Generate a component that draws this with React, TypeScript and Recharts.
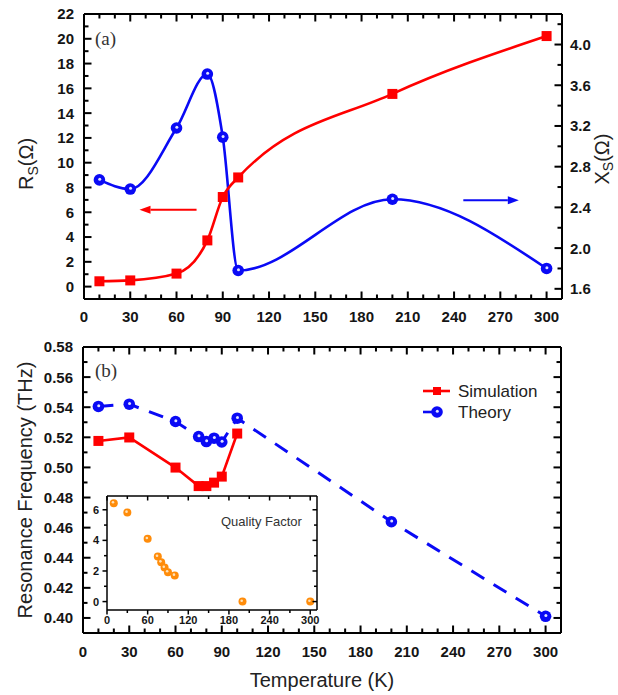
import React from 'react';
import { LineChart, Line, XAxis, YAxis, ReferenceLine, ScatterChart, Scatter } from 'recharts';

// ---------- data ----------
const temperaturesA = [10, 30, 60, 80, 90, 100, 200, 300];
const surfaceResistance = [0.43, 0.5, 1.05, 3.73, 7.23, 8.81, 15.55, 20.22];
const surfaceReactance = [2.67, 2.58, 3.18, 3.71, 3.09, 1.78, 2.48, 1.8];

const simTemps = [10, 30, 60, 75, 80, 85, 90, 100];
const simFreq = [0.5176, 0.5199, 0.4999, 0.4876, 0.4876, 0.4899, 0.4939, 0.5225];
const theoryTemps = [10, 30, 60, 75, 80, 85, 90, 100, 200, 300];
const theoryFreq = [0.5405, 0.542, 0.5305, 0.5205, 0.5172, 0.5194, 0.5169, 0.5327, 0.4639, 0.4011];

const qTemps = [10, 30, 60, 75, 80, 85, 90, 100, 200, 300];
const qFactor = [6.43, 5.82, 4.1, 2.94, 2.57, 2.22, 1.92, 1.7, 0, 0];

// ---------- ticks ----------
const tempMajor = [0, 30, 60, 90, 120, 150, 180, 210, 240, 270, 300];
const tempMinor = [0, 10, 20, 30, 40, 50, 60, 70, 80, 90, 100, 110, 120, 130, 140, 150, 160, 170, 180, 190, 200, 210, 220, 230, 240, 250, 260, 270, 280, 290, 300];
const rsMajor = [0, 2, 4, 6, 8, 10, 12, 14, 16, 18, 20, 22];
const rsMinor = [0, 1, 2, 3, 4, 5, 6, 7, 8, 9, 10, 11, 12, 13, 14, 15, 16, 17, 18, 19, 20, 21];
const xsMajor = [1.6, 2.0, 2.4, 2.8, 3.2, 3.6, 4.0];
const xsMinor = [1.6, 1.8, 2.0, 2.2, 2.4, 2.6, 2.8, 3.0, 3.2, 3.4, 3.6, 3.8, 4.0, 4.2];
const freqMajor = [0.4, 0.42, 0.44, 0.46, 0.48, 0.5, 0.52, 0.54, 0.56, 0.58];
const freqMinor = [0.4, 0.41, 0.42, 0.43, 0.44, 0.45, 0.46, 0.47, 0.48, 0.49, 0.5, 0.51, 0.52, 0.53, 0.54, 0.55, 0.56, 0.57];
const insetTempMajor = [0, 60, 120, 180, 240, 300];
const insetTempMinor = [0, 30, 60, 90, 120, 150, 180, 210, 240, 270, 300];
const insetQMajor = [0, 2, 4, 6];
const insetQMinor = [0, 1, 2, 3, 4, 5, 6];

// ---------- tables ----------
const tableA = temperaturesA.map((t, i) => ({ t, rs: surfaceResistance[i], xs: surfaceReactance[i] }));
const simTable = simTemps.map((t, i) => ({ t, f: simFreq[i] }));
const theoryTable = theoryTemps.map((t, i) => ({ t, f: theoryFreq[i] }));
const qTable = qTemps.map((t, i) => ({ t, q: qFactor[i] }));

const FONT = "'Liberation Sans', Arial, Helvetica, sans-serif";
const RED = '#ff0000';
const BLUE = '#0a0af5';
const ORANGE = '#ff8c0a';

// ---------- layout (chart sizes / margins / axis sizes) ----------
const A = { top: 0, w: 618, h: 330, mTop: 14, yLeftW: 84, yRightW: 56, xH: 31, xd: [0, 310], yd: [-1, 22], y2d: [1.5, 4.3] };
const B = { top: 330, w: 618, h: 365, mTop: 17, yLeftW: 83, yRightW: 57, xH: 62, xd: [0, 310], yd: [0.39, 0.58] };
const I = { left: 80, top: 490, w: 245, h: 140, mTop: 6, mRight: 8, yLeftW: 27, xH: 20, xd: [0, 310], yd: [-0.55, 6.9] };

type Side = 'bottom' | 'left' | 'right';
function labelTick(side: Side, gap: number, digits: number, size: number) {
  return (p: any) => {
    const v = Number(p.payload && p.payload.value);
    const x = Number(p.x);
    const y = Number(p.y);
    const ts = { fontFamily: FONT, fontWeight: 700, fontSize: size, fill: '#151515' } as any;
    const s = v.toFixed(digits);
    if (side === 'bottom') return <text x={x} y={y + gap} textAnchor="middle" style={ts}>{s}</text>;
    if (side === 'left') return <text x={x - gap} y={y} dy="0.36em" textAnchor="end" style={ts}>{s}</text>;
    return <text x={x + gap} y={y} dy="0.36em" textAnchor="start" style={ts}>{s}</text>;
  };
}

interface Box { l: number; r: number; t: number; b: number }
interface TickSet { d: number[]; minor: number[]; major: number[] }
// side factors: +1 inward, -1 outward, 0 none
function tickMarks(key: string, box: Box, xs: TickSet | null, ys: TickSet | null,
  sides: { bottom: number; top: number; left: number; right: number }, Lmaj: number, Lmin: number, w: number) {
  const out: any[] = [];
  if (xs) {
    xs.minor.forEach((v, i) => {
      const L = xs.major.includes(v) ? Lmaj : Lmin;
      const x = box.l + ((v - xs.d[0]) / (xs.d[1] - xs.d[0])) * (box.r - box.l);
      if (sides.bottom) out.push(<rect key={`${key}b${i}`} x={x - w / 2} y={sides.bottom > 0 ? box.b - L : box.b} width={w} height={L} fill="#000" />);
      if (sides.top) out.push(<rect key={`${key}t${i}`} x={x - w / 2} y={sides.top > 0 ? box.t : box.t - L} width={w} height={L} fill="#000" />);
    });
  }
  if (ys) {
    ys.minor.forEach((v, i) => {
      const L = ys.major.includes(v) ? Lmaj : Lmin;
      const y = box.b - ((v - ys.d[0]) / (ys.d[1] - ys.d[0])) * (box.b - box.t);
      if (sides.left) out.push(<rect key={`${key}l${i}`} x={sides.left > 0 ? box.l : box.l - L} y={y - w / 2} width={L} height={w} fill="#000" />);
      if (sides.right) out.push(<rect key={`${key}r${i}`} x={sides.right > 0 ? box.r - L : box.r} y={y - w / 2} width={L} height={w} fill="#000" />);
    });
  }
  return out;
}

const fullLine = (w: number) => (p: any) => (
  <line x1={Number(p.x1)} y1={Number(p.y1)} x2={Number(p.x2)} y2={Number(p.y2)} stroke="#000" strokeWidth={w} />
);

const RedSquare = (p: any) => {
  if (p.cx == null || p.cy == null) return <g key={`rs-${p.index}`} />;
  return <rect key={`rs-${p.index}`} x={p.cx - 5} y={p.cy - 5} width={10} height={10} fill={RED} />;
};
const BlueBall = (p: any) => {
  if (p.cx == null || p.cy == null) return <g key={`bb-${p.index}`} />;
  return (
    <g key={`bb-${p.index}`}>
      <circle cx={p.cx} cy={p.cy} r={5.8} fill={BLUE} />
      <circle cx={p.cx + 0.3} cy={p.cy - 0.7} r={1.5} fill="#dfe3ff" />
    </g>
  );
};
const OrangeBall = (p: any) => (
  <g>
    <circle cx={p.cx} cy={p.cy} r={4} fill={ORANGE} />
    <circle cx={p.cx - 0.8} cy={p.cy - 0.9} r={1.3} fill="#ffe2b8" />
  </g>
);

const makeArrow = (color: string) => (p: any) => {
  const x1 = Number(p.x1), y1 = Number(p.y1), x2 = Number(p.x2), y2 = Number(p.y2);
  if (!isFinite(x1) || !isFinite(x2)) return <g />;
  const dir = x2 > x1 ? 1 : -1;
  const hl = 11;
  return (
    <g>
      <line x1={x1} y1={y1} x2={x2 - dir * hl} y2={y2} stroke={color} strokeWidth={2} />
      <polygon points={`${x2},${y2} ${x2 - dir * hl},${y2 - 4} ${x2 - dir * hl},${y2 + 4}`} fill={color} />
    </g>
  );
};

const axisLineStyle = { stroke: '#000', strokeWidth: 2 };

function PanelA() {
  return (
    <LineChart width={A.w} height={A.h} data={tableA} margin={{ top: A.mTop, right: 0, bottom: 0, left: 0 }}>
      <XAxis xAxisId="b" dataKey="t" type="number" domain={A.xd} allowDataOverflow ticks={tempMajor} interval={0}
        tickSize={0} tickMargin={0} tickLine={false} axisLine={axisLineStyle} height={A.xH}
        tick={labelTick('bottom', 23, 0, 15)} />
      <YAxis yAxisId="left" type="number" domain={A.yd} allowDataOverflow ticks={rsMajor} interval={0}
        tickSize={0} tickMargin={0} tickLine={false} axisLine={axisLineStyle} width={A.yLeftW}
        tick={labelTick('left', 10, 0, 15)} />
      <YAxis yAxisId="right" orientation="right" type="number" domain={A.y2d} allowDataOverflow ticks={xsMajor} interval={0}
        tickSize={0} tickMargin={0} tickLine={false} axisLine={axisLineStyle} width={A.yRightW}
        tick={labelTick('right', 8, 1, 15)} />
      <ReferenceLine xAxisId="b" yAxisId="left" y={22} shape={fullLine(2)} />
      <Line xAxisId="b" yAxisId="right" dataKey="xs" type="monotone" stroke={BLUE} strokeWidth={2.6}
        dot={BlueBall} activeDot={false} isAnimationActive={false} />
      <Line xAxisId="b" yAxisId="left" dataKey="rs" type="monotone" stroke={RED} strokeWidth={2.6}
        dot={RedSquare} activeDot={false} isAnimationActive={false} />
      <ReferenceLine xAxisId="b" yAxisId="left" segment={[{ x: 73, y: 6.2 }, { x: 36, y: 6.2 }]} shape={makeArrow(RED)} />
      <ReferenceLine xAxisId="b" yAxisId="right" segment={[{ x: 246, y: 2.47 }, { x: 282, y: 2.47 }]} shape={makeArrow(BLUE)} />
    </LineChart>
  );
}

function PanelB() {
  return (
    <LineChart width={B.w} height={B.h} margin={{ top: B.mTop, right: 0, bottom: 0, left: 0 }}>
      <XAxis xAxisId="b" dataKey="t" type="number" domain={B.xd} allowDataOverflow ticks={tempMajor} interval={0}
        tickSize={0} tickMargin={0} tickLine={false} axisLine={axisLineStyle} height={B.xH}
        tick={labelTick('bottom', 24, 0, 15)} />
      <YAxis yAxisId="left" type="number" domain={B.yd} allowDataOverflow ticks={freqMajor} interval={0}
        tickSize={0} tickMargin={0} tickLine={false} axisLine={axisLineStyle} width={B.yLeftW}
        tick={labelTick('left', 10, 2, 15)} />
      <YAxis yAxisId="right" orientation="right" type="number" domain={B.yd} allowDataOverflow ticks={freqMajor} interval={0}
        tickSize={0} tickMargin={0} tickLine={false} tick={false} axisLine={axisLineStyle} width={B.yRightW} />
      <ReferenceLine xAxisId="b" yAxisId="left" y={0.58} shape={fullLine(2)} />
      <Line xAxisId="b" yAxisId="left" data={theoryTable} dataKey="f" type="linear" stroke={BLUE} strokeWidth={3}
        strokeDasharray="15 11" dot={BlueBall} activeDot={false} isAnimationActive={false} />
      <Line xAxisId="b" yAxisId="left" data={simTable} dataKey="f" type="linear" stroke={RED} strokeWidth={2.6}
        dot={RedSquare} activeDot={false} isAnimationActive={false} />
    </LineChart>
  );
}

function Inset() {
  const al = { stroke: '#000', strokeWidth: 1.5 };
  return (
    <ScatterChart width={I.w} height={I.h} margin={{ top: I.mTop, right: I.mRight, bottom: 0, left: 0 }}>
      <XAxis xAxisId="b" dataKey="t" type="number" domain={I.xd} allowDataOverflow ticks={insetTempMajor} interval={0}
        tickSize={0} tickMargin={0} tickLine={false} axisLine={al} height={I.xH}
        tick={labelTick('bottom', 14, 0, 11)} />
      <YAxis yAxisId="left" dataKey="q" type="number" domain={I.yd} allowDataOverflow ticks={insetQMajor} interval={0}
        tickSize={0} tickMargin={0} tickLine={false} axisLine={al} width={I.yLeftW}
        tick={labelTick('left', 8, 0, 11)} />
      <ReferenceLine xAxisId="b" yAxisId="left" y={6.9} shape={fullLine(1.5)} />
      <ReferenceLine xAxisId="b" yAxisId="left" x={310} shape={fullLine(1.5)} />
      <Scatter xAxisId="b" yAxisId="left" data={qTable} dataKey="q" shape={OrangeBall} isAnimationActive={false} />
    </ScatterChart>
  );
}

export default function App() {
  const labelStyle = { fontFamily: FONT, fontSize: 20, fill: '#222' } as any;
  const serif = { fontFamily: "'Liberation Serif', 'Times New Roman', serif", fontSize: 19, fill: '#333' } as any;
  const boxA: Box = { l: A.yLeftW, r: A.w - A.yRightW, t: A.top + A.mTop, b: A.top + A.h - A.xH };
  const boxB: Box = { l: B.yLeftW, r: B.w - B.yRightW, t: B.top + B.mTop, b: B.top + B.h - B.xH };
  const boxI: Box = { l: I.left + I.yLeftW, r: I.left + I.w - I.mRight, t: I.top + I.mTop, b: I.top + I.h - I.xH };
  return (
    <div style={{ position: 'absolute', left: 0, top: 0, width: 618, height: 695, background: '#fff', overflow: 'hidden' }}>
      <div style={{ position: 'absolute', left: 0, top: A.top }}>
        <PanelA />
      </div>
      <div style={{ position: 'absolute', left: 0, top: B.top }}>
        <PanelB />
      </div>
      <div style={{ position: 'absolute', left: I.left, top: I.top }}>
        <Inset />
      </div>
      <svg width={618} height={695} style={{ position: 'absolute', left: 0, top: 0, pointerEvents: 'none' }}>
        {/* tick marks */}
        {tickMarks('a', boxA, { d: A.xd, minor: tempMinor, major: tempMajor }, { d: A.yd, minor: rsMinor, major: rsMajor },
          { bottom: 1, top: 1, left: 1, right: 0 }, 7.5, 4.5, 2)}
        {tickMarks('a2', boxA, null, { d: A.y2d, minor: xsMinor, major: xsMajor },
          { bottom: 0, top: 0, left: 0, right: 1 }, 7.5, 4.5, 2)}
        {tickMarks('b', boxB, { d: B.xd, minor: tempMinor, major: tempMajor }, { d: B.yd, minor: freqMinor, major: freqMajor },
          { bottom: 1, top: 1, left: 1, right: 1 }, 7.5, 4.5, 2)}
        {tickMarks('i', boxI, { d: I.xd, minor: insetTempMinor, major: insetTempMajor }, { d: I.yd, minor: insetQMinor, major: insetQMajor },
          { bottom: -1, top: 1, left: -1, right: 1 }, 4.5, 3, 1.5)}

        <text x={95} y={45} style={serif}>(a)</text>
        <text x={95} y={377} style={serif}>(b)</text>
        <text transform="translate(33,164) rotate(-90)" textAnchor="middle" style={labelStyle}>
          R<tspan fontSize={14} dy={5}>S</tspan><tspan dy={-5}>(Ω)</tspan>
        </text>
        <text transform="translate(609,159) rotate(-90)" textAnchor="middle" style={labelStyle}>
          X<tspan fontSize={14} dy={4}>S</tspan><tspan dy={-4}>(Ω)</tspan>
        </text>
        <text transform="translate(32,490) rotate(-90)" textAnchor="middle" style={labelStyle}>Resonance Frequency (THz)</text>
        <text x={322} y={687} textAnchor="middle" style={labelStyle}>Temperature (K)</text>
        {/* legend */}
        <line x1={423} y1={391} x2={450} y2={391} stroke={RED} strokeWidth={2.6} />
        <rect x={433} y={387} width={8} height={8} fill={RED} />
        <text x={458} y={397} style={{ fontFamily: FONT, fontSize: 17, fill: '#222' }}>Simulation</text>
        <line x1={423} y1={412} x2={436} y2={412} stroke={BLUE} strokeWidth={2.6} />
        <circle cx={437} cy={412} r={5.8} fill={BLUE} />
        <circle cx={437.3} cy={411.3} r={1.5} fill="#dfe3ff" />
        <text x={458} y={418} style={{ fontFamily: FONT, fontSize: 17, fill: '#222' }}>Theory</text>
        <text x={221} y={526} style={{ fontFamily: FONT, fontSize: 13, fill: '#333' }}>Quality Factor</text>
      </svg>
    </div>
  );
}
